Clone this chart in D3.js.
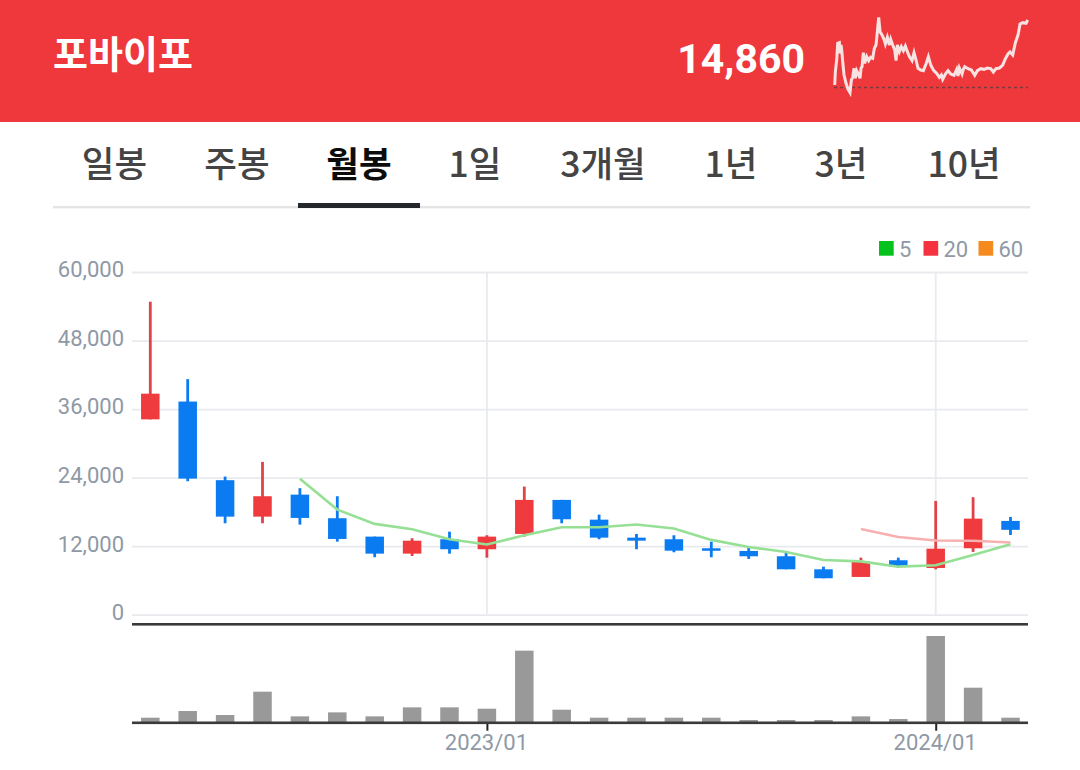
<!DOCTYPE html>
<html lang="ko">
<head>
  <meta charset="UTF-8">
  <title>포바이포 월봉</title>
  <script src="https://d3js.org/d3.v7.min.js"></script>
  <style>
    body { margin: 0; background: #fff; font-family: "Noto Sans CJK KR", "Noto Sans", sans-serif; }
    svg { display: block; }
    .axis .domain { display: none; }
    .axis line { stroke: #e8eaee; stroke-width: 1.8; }
    .axis text { fill: #8e99a5; font-size: 22px; font-weight: 400; font-family: Roboto, sans-serif; }
  </style>
</head>
<body>
<svg width="1080" height="770"></svg>

<script>
  const months = ["2022/04","2022/05","2022/06","2022/07","2022/08","2022/09","2022/10","2022/11","2022/12",
    "2023/01","2023/02","2023/03","2023/04","2023/05","2023/06","2023/07","2023/08","2023/09","2023/10","2023/11","2023/12",
    "2024/01","2024/02","2024/03"];
  const opens  = [34200,37320,23550,17170,21020,16890,13670,10690,13210,11460,14140,20100,16640,13490,13210,11630,11160,10230,7950,6610,9530,8180,11630,16420];
  const closes = [38700,23830,17170,20740,16940,13260,10690,12960,11460,13670,20100,16710,13490,12960,11210,11210,10230,7950,6380,9290,8410,11560,16820,14860];
  const highs  = [54800,41240,24180,26750,22150,20740,13670,13390,14540,13910,22430,20100,17520,14140,13910,12790,11810,10860,8410,9990,9990,19920,20570,17120];
  const lows   = [34200,23370,16010,16010,15770,12790,10060,10280,10690,9990,13670,16010,13210,11460,10930,10060,9760,7950,6380,6610,8180,7950,10990,13960];
  const volumes = [15,35,23,93,19,31,19,46,46,42,216,39,15,15,15,15,8,8,8,19,11,260,105,15];

  const ma5 = [null,null,null,null,23800,18400,15900,14950,13200,12300,13900,15300,15300,15800,15100,13100,11850,10970,9570,9340,8410,8650,10450,12320];
  const ma20 = [...Array(19).fill(null),15000,13600,13000,12950,12650];

  const yTicks = [0,12000,24000,36000,48000,60000];
  const dateLabels = ["2023/01","2024/01"];
  const tabs = ["일봉","주봉","월봉","1일","3개월","1년","3년","10년"];
  const tabCenters = [114.5,237,359,475,603,731,841,964];
  const legendNames = ["5","20","60"];
  const legendColors = ["#06c21d","#f5333f","#f58a1f"];

  // small chart in the header
  const sparkDays = [44,46,50,53,58,60,63,65,68,72,78,84,90,94,98,102,106,110,115,120,123,126,130,134,140,146,152,158,163,168,172,176,180,186,192,196,202,208,212,218,224,228,232,238,244,250,256,262,268,276,282,288,294,302,310,318,325,332,340,350,358,364,368,376,384,392,402,410,414,418,426,430,434,444,454,464,472,482,492,502,512,520,528,538,548,556,564,570,578,586,594,600,608,618,623];
  const sparkLevels = [45,85,120,170,172,140,165,150,115,75,50,32,22,60,68,95,65,88,78,65,95,100,142,110,130,118,128,125,155,165,205,248,205,195,182,168,188,165,182,165,150,118,165,145,160,148,162,145,130,118,142,120,95,90,88,108,130,105,90,80,68,75,62,78,88,78,74,92,72,96,78,92,100,94,90,74,88,94,92,96,94,84,94,96,105,124,138,144,135,172,195,228,232,230,240];

  const svg = d3.select("svg");

  // header
  svg.append("rect").attr("width", 1080).attr("height", 122).attr("fill", "#ee383c");
  svg.append("text").attr("x", 53).attr("y", 68).text("포바이포")
    .attr("fill", "#fff").attr("font-size", 38).attr("font-weight", 700);
  svg.append("text").attr("x", 805).attr("y", 73).attr("text-anchor", "end").text("14,860")
    .attr("fill", "#fff").attr("font-size", 41).attr("font-weight", 700)
    .attr("font-family", "Roboto, sans-serif");

  const sparkX = d3.scaleLinear().domain([44, 623]).range([834.7, 1027.7]);
  const sparkY = d3.scaleLinear().domain([0, 300]).range([100, 0]);
  svg.append("line").attr("x1", 834).attr("x2", 1028).attr("y1", 87.5).attr("y2", 87.5)
    .attr("stroke", "#7a3a3c").attr("stroke-width", 1.5).attr("stroke-dasharray", "3 3");
  svg.append("path")
    .attr("d", d3.line().x((d, i) => sparkX(sparkDays[i])).y(d => sparkY(d))(sparkLevels))
    .attr("fill", "none").attr("stroke", "#f8e2e2").attr("stroke-width", 3);

  // tabs
  svg.selectAll(".tab").data(tabs).join("text")
    .attr("class", "tab")
    .attr("x", (d, i) => tabCenters[i]).attr("y", 177)
    .attr("text-anchor", "middle").attr("font-size", 35.5)
    .attr("font-weight", d => d === "월봉" ? 700 : 500)
    .attr("fill", d => d === "월봉" ? "#0c0c0c" : "#444")
    .text(d => d);
  svg.append("rect").attr("x", 53).attr("y", 206).attr("width", 977).attr("height", 2.4).attr("fill", "#e4e4e4");
  svg.append("rect").attr("x", 298).attr("y", 203).attr("width", 122).attr("height", 5).attr("fill", "#23262b");

  // legend
  const legendX = [879, 923.5, 978.5];
  const legend = svg.selectAll(".legend").data(legendNames).join("g")
    .attr("class", "legend").attr("transform", (d, i) => `translate(${legendX[i]},241)`);
  legend.append("rect").attr("width", 14.7).attr("height", 14.7).attr("fill", (d, i) => legendColors[i]);
  legend.append("text").attr("x", 20).attr("y", 15.5).attr("font-size", 22).attr("font-weight", 400)
    .attr("font-family", "Roboto, sans-serif").attr("fill", "#8e99a5").text(d => d);

  // price panel
  const x = d3.scalePoint().domain(months).range([150.3, 1010.5]);
  const y = d3.scaleLinear().domain([0, 60000]).range([614.7, 272]);
  const yVol = d3.scaleLinear().domain([0, 260]).range([722.7, 636]);
  const bodyW = 18.5;

  svg.append("g").attr("class", "axis")
    .attr("transform", "translate(132,0)")
    .call(d3.axisLeft(y).tickValues(yTicks).tickSize(-896).tickPadding(8).tickFormat(d3.format(",")))
    .selectAll("text").attr("dy", "0.22em");

  svg.selectAll(".vgrid").data(dateLabels).join("line")
    .attr("class", "vgrid")
    .attr("x1", d => x(d)).attr("x2", d => x(d)).attr("y1", 272).attr("y2", 614.7)
    .attr("stroke", "#e8eaee").attr("stroke-width", 1.8);

  const candle = i => closes[i] >= opens[i] ? "#ef3b3d" : "#0a7bf0";
  const idx = d3.range(months.length);

  svg.selectAll(".wick").data(idx).join("line")
    .attr("class", "wick")
    .attr("x1", i => x(months[i])).attr("x2", i => x(months[i]))
    .attr("y1", i => y(highs[i])).attr("y2", i => y(lows[i]))
    .attr("stroke", i => closes[i] >= opens[i] ? "#e0424a" : "#0a7bf0").attr("stroke-width", 2.8);

  svg.selectAll(".body").data(idx).join("rect")
    .attr("class", "body")
    .attr("x", i => x(months[i]) - bodyW / 2).attr("width", bodyW)
    .attr("y", i => y(Math.max(opens[i], closes[i])))
    .attr("height", i => Math.max(2.5, Math.abs(y(opens[i]) - y(closes[i]))))
    .attr("fill", candle);

  const maLine = d3.line().defined(d => d[1] !== null).x(d => x(d[0])).y(d => y(d[1]));
  svg.append("path").attr("d", maLine(ma5.map((v, i) => [months[i], v])))
    .attr("fill", "none").attr("stroke", "#96e096").attr("stroke-width", 2.6);
  svg.append("path").attr("d", maLine(ma20.map((v, i) => [months[i], v])))
    .attr("fill", "none").attr("stroke", "#f7b0b0").attr("stroke-width", 2.6);

  // volume panel
  svg.append("rect").attr("x", 132).attr("y", 623).attr("width", 896).attr("height", 2.6).attr("fill", "#3a3a3a");
  svg.selectAll(".vol").data(volumes).join("rect")
    .attr("class", "vol")
    .attr("x", (d, i) => x(months[i]) - bodyW / 2).attr("width", bodyW)
    .attr("y", d => yVol(d)).attr("height", d => yVol(0) - yVol(d))
    .attr("fill", "#999");

  const xAxis = svg.append("g").attr("class", "axis date")
    .attr("transform", "translate(0,722.7)")
    .call(d3.axisBottom(x).tickValues(dateLabels).tickSize(8).tickPadding(4));
  xAxis.selectAll("line").style("stroke", "#222").style("stroke-width", 2);
  xAxis.selectAll("text").attr("dx", "-1");
  svg.append("rect").attr("x", 132).attr("y", 721.5).attr("width", 896).attr("height", 2.6).attr("fill", "#3a3a3a");
</script>
</body>
</html>
